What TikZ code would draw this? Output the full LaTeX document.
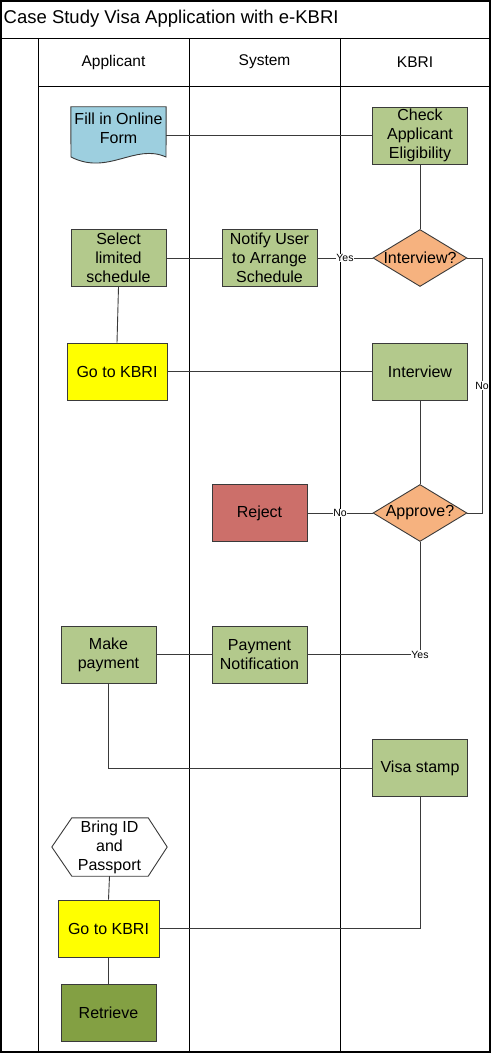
\documentclass[tikz,border=0pt]{standalone}
\usepackage{fontspec}
\setmainfont{Liberation Sans}
\usetikzlibrary{shapes.geometric}
\definecolor{docblue}{HTML}{9DCFDF}
\definecolor{boxgreen}{HTML}{B3C98C}
\definecolor{boxyellow}{HTML}{FFFF00}
\definecolor{decorange}{HTML}{F6B27F}
\definecolor{rejectred}{HTML}{CC6F6A}
\definecolor{retrgreen}{HTML}{83A043}
\definecolor{edgegray}{HTML}{3A3A3A}
\begin{document}
\begin{tikzpicture}[x=1pt,y=-1pt,
  nodefont/.style={font=\fontsize{16}{19}\selectfont},
  proc/.style={rectangle,draw=edgegray,line width=0.9pt,minimum width=95pt,minimum height=57pt,inner sep=0pt,align=center,nodefont},
  decision/.style={diamond,draw=edgegray,line width=0.9pt,fill=decorange,minimum width=94pt,minimum height=57pt,inner sep=0pt,aspect=1.65},
  conn/.style={draw=edgegray,line width=0.9pt},
  lbl/.style={fill=white,inner sep=0.5pt,font=\fontsize{10.5}{12}\selectfont},
  lane/.style={draw=black,line width=0.9pt},
  hdr/.style={font=\fontsize{15.5}{18}\selectfont}]
\useasboundingbox (0,0) rectangle (492,1054);

% frame and lanes
\draw[lane,line width=1.4pt] (1,1) rectangle (490,1052);
\draw[lane] (1,38) -- (490,38);
\draw[lane] (38,86) -- (490,86);
\draw[lane] (38,38) -- (38,1052);
\draw[lane] (189,38) -- (189,1052);
\draw[lane] (340,38) -- (340,1052);

\node[anchor=west,inner sep=0pt,font=\fontsize{18.5}{22}\selectfont] (title) at (3.5,19) {Case Study Visa Application with e-KBRI};
\node[hdr] (happ) at (113.5,62) {Applicant};
\node[hdr] (hsys) at (264.5,62) {System};
\node[hdr] (hkbri) at (415,62) {KBRI};

% document shape
\node[rectangle,minimum width=95pt,minimum height=57pt,inner sep=0pt] (fill) at (118.5,135.5) {};
\draw[fill=docblue,draw=edgegray,line width=0.9pt] (fill.north west) -- (fill.north east) -- (166,157)
  .. controls (135,143) and (108,176) .. (71,157) -- cycle;
\node[nodefont,align=center] (filltext) at (118.5,128) {Fill in Online\\Form};

\node[proc,fill=boxgreen] (check) at (420,135.5) {Check\\Applicant\\Eligibility};
\node[decision,label={[nodefont]center:Interview?}] (q1) at (420,258) {};
\node[proc,fill=boxgreen] (notify) at (269.5,258) {Notify User\\to Arrange\\Schedule};
\node[proc,fill=boxgreen] (select) at (118.5,258) {Select\\limited\\schedule};
\node[proc,fill=boxyellow,minimum width=100pt] (go1) at (117,371.5) {Go to KBRI};
\node[proc,fill=boxgreen] (interview) at (420,371.5) {Interview};
\node[decision,label={[nodefont]center:Approve?}] (q2) at (420,513) {};
\node[proc,fill=rejectred] (reject) at (259.5,513) {Reject};
\node[proc,fill=boxgreen] (paynote) at (259.5,654.5) {Payment\\Notification};
\node[proc,fill=boxgreen] (makepay) at (108.5,654.5) {Make\\payment};
\node[proc,fill=boxgreen] (visa) at (420,768) {Visa stamp};

% hexagon
\node[rectangle,minimum width=115pt,minimum height=58pt,inner sep=0pt] (bring) at (109.5,847) {};
\draw[fill=white,draw=edgegray,line width=0.9pt] (bring.west) -- ([xshift=20pt]bring.north west) -- ([xshift=-19pt]bring.north east)
  -- (bring.east) -- ([xshift=-19pt]bring.south east) -- ([xshift=20pt]bring.south west) -- cycle;
\node[nodefont,align=center] (bringtext) at (109.5,847) {Bring ID\\and\\Passport};

\node[proc,fill=boxyellow,minimum width=101pt] (go2) at (108.5,928.5) {Go to KBRI};
\node[proc,fill=retrgreen] (retrieve) at (108.5,1013) {Retrieve};

% connectors
\coordinate (nox) at (482,258);
\draw[conn] (fill.east) -- (check.west);
\draw[conn] (check.south) -- (q1.north);
\draw[conn] (q1.west) -- node[lbl]{Yes} (notify.east);
\draw[conn] (notify.west) -- (select.east);
\draw[conn] (select.south) -- (go1.north);
\draw[conn] (go1.east) -- (interview.west);
\draw[conn] (q1.east) -- (nox) -- node[lbl]{No} (nox |- q2.east) -- (q2.east);
\draw[conn] (interview.south) -- (q2.north);
\draw[conn] (q2.west) -- node[lbl]{No} (reject.east);
\draw[conn] (q2.south) |- node[lbl,pos=0.5]{Yes} (paynote.east);
\draw[conn] (paynote.west) -- (makepay.east);
\draw[conn] (makepay.south) |- (visa.west);
\draw[conn] (visa.south) |- (go2.east);
\draw[conn] (bring.south) -- (go2.north);
\draw[conn] (go2.south) -- (retrieve.north);
\end{tikzpicture}
\end{document}
